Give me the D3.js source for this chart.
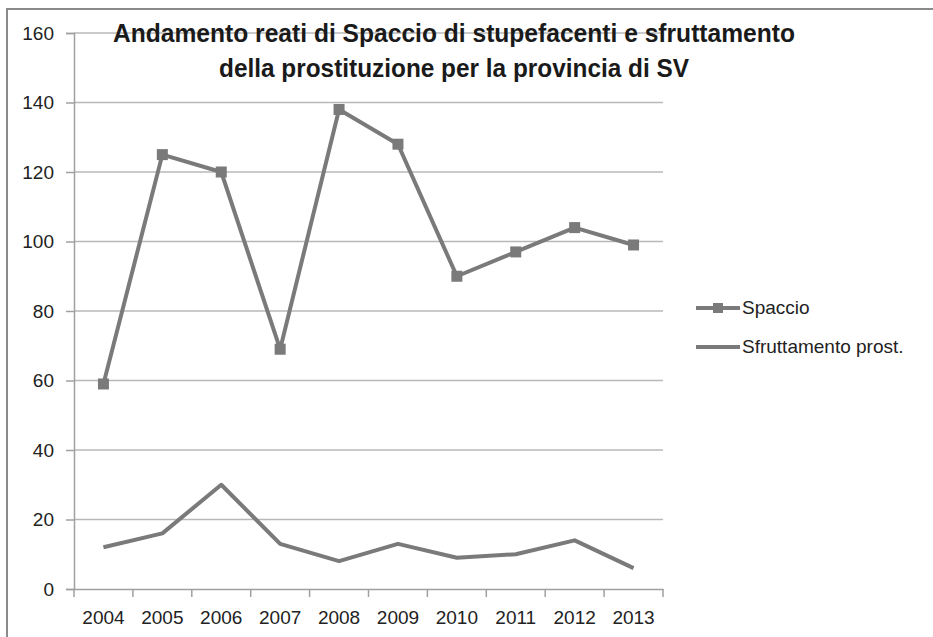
<!DOCTYPE html>
<html><head><meta charset="utf-8">
<script src="https://cdn.jsdelivr.net/npm/d3@7"></script>
<style>body{margin:0;background:#fff;} svg{display:block;}</style>
</head><body>
<script>
const years = ["2004","2005","2006","2007","2008","2009","2010","2011","2012","2013"];
const spaccio = [59,125,120,69,138,128,90,97,104,99];
const sfruttamento = [12,16,30,13,8,13,9,10,14,6];
const yTicks = [0,20,40,60,80,100,120,140,160];
const titleLines = ["Andamento reati di Spaccio di stupefacenti e sfruttamento","della prostituzione per la provincia di SV"];
const seriesNames = ["Spaccio","Sfruttamento prost."];

const W=933,H=637;
const font = "'Liberation Sans', Arial, sans-serif";
const svg = d3.select("body").append("svg").attr("width",W).attr("height",H);
svg.append("rect").attr("x",7).attr("y",9).attr("width",W+20).attr("height",H+20)
  .attr("fill","#fff").attr("stroke","#8a8a8a").attr("stroke-width",2);

const x = d3.scaleBand().domain(years).range([74,663]);
const y = d3.scaleLinear().domain([0,160]).range([589,33]);

// gridlines
svg.append("g").selectAll("line").data(yTicks.filter(d=>d>0)).join("line")
  .attr("x1",74).attr("x2",663).attr("y1",d=>y(d)).attr("y2",d=>y(d))
  .attr("stroke","#b8b8b8").attr("stroke-width",1.5);

// y axis
const ya = svg.append("g").attr("transform","translate(74,0)")
  .call(d3.axisLeft(y).tickValues(yTicks).tickSize(8).tickPadding(12));
ya.select(".domain").attr("stroke","#a0a0a0").attr("stroke-width",1.5);
ya.selectAll(".tick line").attr("stroke","#a0a0a0").attr("stroke-width",1.5);
ya.selectAll("text").attr("font-family",font).attr("font-size",19).attr("fill","#222");

// x axis
const xa = svg.append("g").attr("transform","translate(0,589)")
  .call(d3.axisBottom(x).tickSize(0).tickPadding(22));
xa.select(".domain").attr("stroke","#a0a0a0").attr("stroke-width",1.5);
xa.selectAll("text").attr("font-family",font).attr("font-size",19).attr("fill","#222");
svg.append("g").selectAll("line").data(years.concat(["end"])).join("line")
  .attr("x1",(d,i)=>74+i*x.bandwidth()).attr("x2",(d,i)=>74+i*x.bandwidth())
  .attr("y1",589).attr("y2",597).attr("stroke","#a0a0a0").attr("stroke-width",1.5);

const cx = d=>x(d)+x.bandwidth()/2;
const line = d3.line().x((d,i)=>cx(years[i])).y(d=>y(d));
const col = "#7a7a7a";
svg.append("path").datum(sfruttamento).attr("d",line).attr("fill","none")
  .attr("stroke",col).attr("stroke-width",4).attr("stroke-linejoin","round");
svg.append("path").datum(spaccio).attr("d",line).attr("fill","none")
  .attr("stroke",col).attr("stroke-width",4).attr("stroke-linejoin","round");
const s=11;
svg.append("g").selectAll("rect").data(spaccio).join("rect")
  .attr("x",(d,i)=>cx(years[i])-s/2).attr("y",d=>y(d)-s/2)
  .attr("width",s).attr("height",s).attr("fill",col);

// title
const titleWidths = [682,470];
svg.append("g").selectAll("text").data(titleLines).join("text")
  .attr("x",454).attr("y",(d,i)=>42+i*35).attr("text-anchor","middle")
  .attr("font-family",font).attr("font-weight","bold").attr("font-size",26)
  .attr("textLength",(d,i)=>titleWidths[i]).attr("lengthAdjust","spacingAndGlyphs")
  .attr("fill","#1a1a1a").text(d=>d);

// legend
const lg = svg.append("g");
seriesNames.forEach((n,i)=>{
  const ly = 308+i*39;
  lg.append("line").attr("x1",696).attr("x2",740).attr("y1",ly).attr("y2",ly)
    .attr("stroke",col).attr("stroke-width",4);
  if(i===0) lg.append("rect").attr("x",718-5).attr("y",ly-5).attr("width",10).attr("height",10).attr("fill",col);
  lg.append("text").attr("x",742).attr("y",ly+6).attr("font-family",font)
    .attr("font-size",19).attr("fill","#222").text(n);
});
</script>
</body></html>
